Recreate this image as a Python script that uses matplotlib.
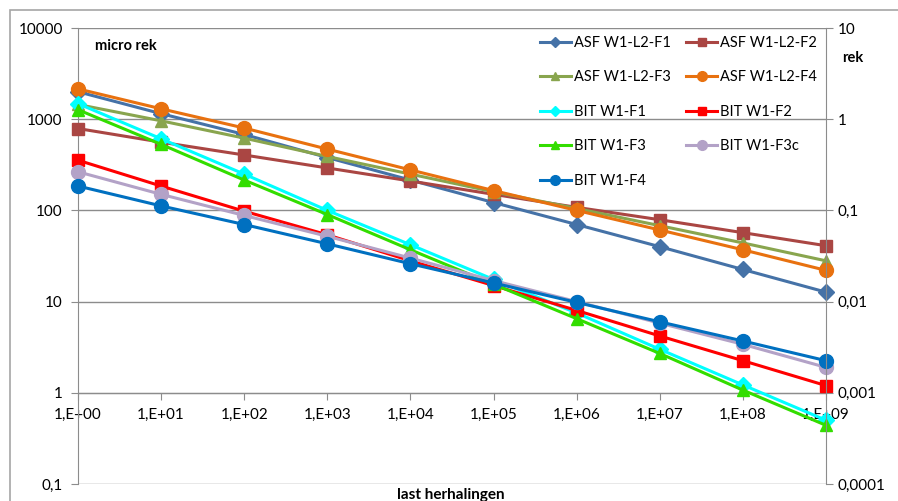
import matplotlib.pyplot as plt
from matplotlib.patches import Rectangle

plt.rcParams['font.family'] = ['Lato', 'DejaVu Sans']

# last herhalingen (1E+00 .. 1E+09)
cycles = [1e0, 1e1, 1e2, 1e3, 1e4, 1e5, 1e6, 1e7, 1e8, 1e9]
x_labels = ['1,E+00', '1,E+01', '1,E+02', '1,E+03', '1,E+04',
            '1,E+05', '1,E+06', '1,E+07', '1,E+08', '1,E+09']

# micro rek per series
asf_f1 = [2000, 1150, 680, 380, 215, 122, 70, 40, 22.5, 12.7]
asf_f2 = [790, 560, 405, 292, 210, 150, 108, 79, 57, 41]
asf_f3 = [1450, 960, 620, 390, 250, 160, 105, 68, 44, 28]
asf_f4 = [2150, 1300, 800, 470, 278, 165, 100, 61, 37, 22]
bit_f1 = [1480, 610, 250, 100, 42, 17.5, 7.5, 3.0, 1.22, 0.5]
bit_f2 = [355, 185, 98, 54, 28, 15, 8, 4.2, 2.25, 1.2]
bit_f3 = [1270, 530, 215, 90, 37, 15.5, 6.5, 2.7, 1.07, 0.44]
bit_f3c = [265, 150, 88, 52, 30, 17, 10, 5.8, 3.4, 1.9]
bit_f4 = [185, 112, 70, 43, 26, 16, 9.8, 6.0, 3.7, 2.25]

series = [
    ('ASF W1-L2-F1', asf_f1, '#4572A7', 'D', 8),
    ('ASF W1-L2-F2', asf_f2, '#AA4643', 's', 9),
    ('ASF W1-L2-F3', asf_f3, '#89A54E', '^', 9),
    ('ASF W1-L2-F4', asf_f4, '#E8710F', 'o', 10),
    ('BIT W1-F1', bit_f1, '#00FFFF', 'D', 8),
    ('BIT W1-F2', bit_f2, '#FF0000', 's', 9),
    ('BIT W1-F3', bit_f3, '#33DD00', '^', 9),
    ('BIT W1-F3c', bit_f3c, '#B3A2C7', 'o', 10),
    ('BIT W1-F4', bit_f4, '#0070C0', 'o', 10),
]

fig = plt.figure(figsize=(8.98, 5.01), dpi=100)
fig.patches.append(Rectangle((10 / 898, -0.1), 1.0, 1 - 10 / 501 + 0.1,
                             transform=fig.transFigure, fill=False,
                             edgecolor='#a6a6a6', linewidth=1.2))
ax = fig.add_axes([78 / 898, 1 - 484 / 501, 748 / 898, 456 / 501])

handles = []
for name, vals, col, mk, ms in series:
    h, = ax.plot(cycles, vals, color=col, marker=mk, markersize=ms,
                 linewidth=2.2, label=name, clip_on=False, zorder=3)
    handles.append(h)

ax.set_xscale('log')
ax.set_yscale('log')
ax.set_xlim(1, 1e9)
ax.set_ylim(0.1, 10000)

ax.set_xticks(cycles)
ax.set_xticklabels(x_labels)
ax.minorticks_off()
ax.set_yticks([0.1, 1, 10, 100, 1000, 10000])
ax.set_yticklabels(['0,1', '1', '10', '100', '1000', '10000'])

ax.spines['bottom'].set_position(('data', 1))
for s in ['top', 'right']:
    ax.spines[s].set_visible(False)
for s in ['bottom', 'left']:
    ax.spines[s].set_color('#8c8c8c')
ax.tick_params(axis='both', colors='#8c8c8c', labelcolor='black',
               labelsize=11, length=5)
ax.tick_params(axis='x', pad=6)
ax.tick_params(axis='y', pad=6)
ax.grid(axis='y', color='#8c8c8c', linewidth=1)
ax.set_axisbelow(True)

ax2 = ax.twinx()
ax2.set_yscale('log')
ax2.set_ylim(0.0001, 10)
ax2.set_yticks([0.0001, 0.001, 0.01, 0.1, 1, 10])
ax2.set_yticklabels(['0,0001', '0,001', '0,01', '0,1', '1', '10'])
ax2.minorticks_off()
for s in ['top', 'left', 'bottom']:
    ax2.spines[s].set_visible(False)
ax2.spines['right'].set_color('#8c8c8c')
ax2.tick_params(axis='y', colors='#8c8c8c', labelcolor='black',
                labelsize=11, length=5)

fig.text(95 / 898, 1 - 46 / 501, 'micro rek', fontsize=10.5,
         fontweight='bold', va='center')
fig.text(842 / 898, 1 - 58 / 501, 'rek', fontsize=10.5,
         fontweight='bold', va='center')
fig.text(451 / 898, 1 - 495 / 501, 'last herhalingen', fontsize=11,
         fontweight='bold', ha='center', va='center')

order = [0, 2, 4, 6, 8, 1, 3, 5, 7]
ax2.legend([handles[i] for i in order], [series[i][0] for i in order],
           ncol=2, loc='upper left', bbox_to_anchor=(540 / 898, 1 - 36 / 501),
           bbox_transform=fig.transFigure, frameon=False, fontsize=10.5,
           markerscale=0.7, handlelength=2.1, handletextpad=0.2,
           columnspacing=1.1, labelspacing=1.4, borderpad=0,
           borderaxespad=0)

fig.savefig('out.png', dpi=100)
